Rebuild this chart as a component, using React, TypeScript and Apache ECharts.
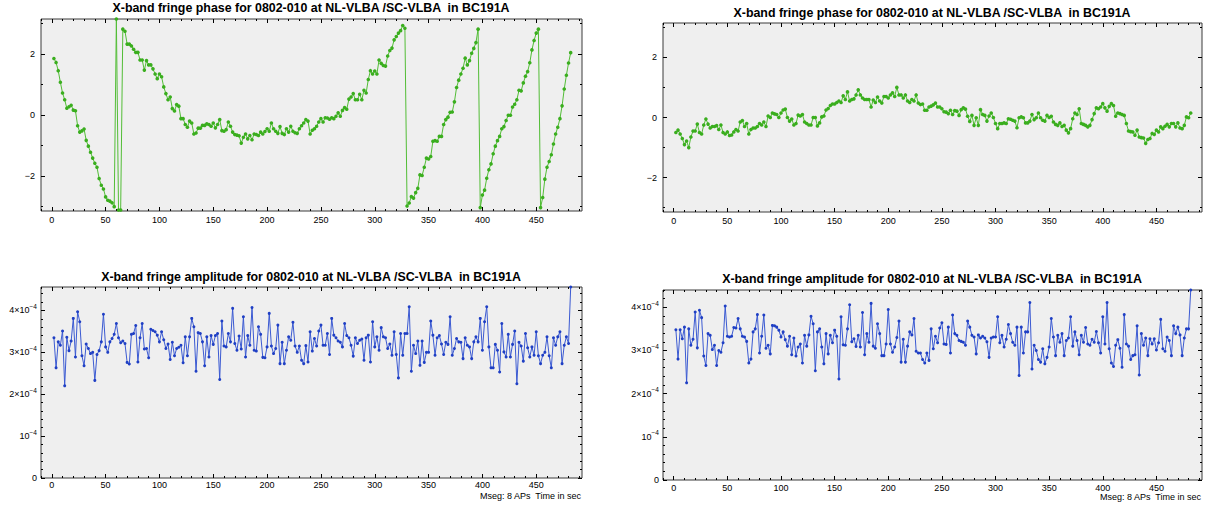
import React, { useEffect, useRef } from "react";
import * as echarts from "echarts";

// ---------- text ----------
const TITLE_PHASE = "X-band fringe phase for 0802-010 at NL-VLBA /SC-VLBA  in BC191A";
const TITLE_AMP = "X-band fringe amplitude for 0802-010 at NL-VLBA /SC-VLBA  in BC191A";
const FOOTNOTE = "Mseg: 8 APs  Time in sec";

// ---------- sampling grid (seconds) ----------
const T_START = 2;
const T_STEP = 2;

// ---------- tick labels ----------
const X_TICK_LABELS = [0, 50, 100, 150, 200, 250, 300, 350, 400, 450];
const PHASE_TICK_LABELS = [-2, 0, 2];
const AMP_TICK_LABELS = [0, 1, 2, 3, 4]; // in units of 1e-4
const AMP_UNIT = 1e-4;

// ---------- phase, left panel (radians) ----------
const PHASE_A = [
  1.85, 1.72, 1.45, 1.07, 0.72, 0.5, 0.22, 0.27, 0.32, 0.16,
  0.14, -0.35, -0.56, -0.52, -0.46, -0.83, -1.02, -1.22, -1.41, -1.58,
  -1.71, -2.08, -2.3, -2.42, -2.68, -2.79, -2.82, -2.87, -3.0,
  3.14, -3.11, -3.11, 2.81, 2.74,
  2.32, 2.32, 2.26, 2.15, 2.05, 2.05, 1.8, 1.8, 1.47, 1.78,
  1.64, 1.64, 1.51, 1.34, 1.19, 1.34, 1.25, 0.92, 0.7, 0.5,
  0.59, 0.21, 0.13, 0.34, 0.29,
  -0.12, -0.12, -0.31, -0.4, -0.2, -0.26, -0.62, -0.59, -0.43, -0.43,
  -0.34, -0.34, -0.29, -0.31, -0.37, -0.26, -0.42, -0.31, -0.15, -0.51,
  -0.53, -0.48, -0.23, -0.37, -0.56, -0.64, -0.66, -0.68, -0.92,
  -0.73, -0.62, -0.78, -0.67, -0.81, -0.62, -0.64, -0.67, -0.56, -0.62,
  -0.54, -0.45, -0.53, -0.26, -0.45, -0.53, -0.6, -0.38, -0.6, -0.64,
  -0.45, -0.56, -0.37, -0.53, -0.58, -0.6, -0.45, -0.35,
  -0.26, -0.15, -0.2, -0.62, -0.5, -0.45, -0.37, -0.23, -0.12, -0.23,
  -0.09, -0.1, -0.14, -0.09, -0.12, -0.04, 0.07, -0.04, 0.15, 0.24,
  0.19, 0.52, 0.59, 0.7, 0.5, 0.5, 0.68, 0.5, 0.81, 0.72,
  1.16, 1.45, 1.34, 1.44, 1.34, 1.8, 1.69, 1.62, 1.6, 1.93,
  2.11, 2.19, 2.46, 2.57, 2.68, 2.76, 2.93, 2.84,
  -2.98, -2.88, -2.67, -2.72, -2.54, -2.4, -1.96, -1.98, -1.71, -1.41,
  -1.44, -1.36, -0.86, -0.84, -0.86, -0.7, -0.7, -0.31, -0.15, -0.07,
  0.09, 0.1, 0.43, 0.9, 1.14, 1.34, 1.53, 1.86, 1.64, 1.78,
  2.02, 2.18, 2.37, 2.81,
  -3.03, -2.62, -2.46, -2.07, -1.79, -1.6, -1.27, -1.02, -0.84, -0.7,
  -0.45, -0.38, -0.18, -0.01, -0.01, 0.26, 0.35, 0.5, 0.81, 0.79,
  1.05, 1.27, 1.42, 1.71, 2.13, 2.44, 2.68, 2.81,
  -3.03, -2.7, -2.1, -1.71, -1.52, -1.3, -0.95, -0.62, -0.4, -0.12,
  0.3, 0.85, 1.3, 1.7, 2.04,
];

// ---------- phase, right panel (radians) ----------
const PHASE_B = [
  -0.5, -0.42, -0.55, -0.7, -0.9, -0.78, -1.0, -0.65, -0.45, -0.45, -0.22,
  -0.5, -0.55, -0.25, -0.05, -0.22, -0.35, -0.3, -0.3, -0.27, -0.4, -0.25,
  -0.5, -0.55, -0.48, -0.6, -0.58, -0.48, -0.4, -0.45, -0.15, -0.1,
  -0.3, -0.2, -0.55, -0.4, -0.35, -0.35, -0.3, -0.2, -0.25, -0.15,
  -0.3, 0.05, 0.0, 0.15, 0.12, 0.1, 0.0, 0.15, 0.25, 0.28, 0.0,
  -0.12, -0.05, -0.25, -0.2, 0.08, 0.05, 0.1, -0.15, -0.2, -0.25,
  -0.25, 0.0, 0.0, -0.28, -0.18, 0.02, 0.05, 0.25, 0.3, 0.4,
  0.45, 0.45, 0.5, 0.55, 0.5, 0.72, 0.6, 0.85, 0.55, 0.6, 0.62,
  0.75, 0.92, 0.75, 0.65, 0.6, 0.6, 0.6, 0.35, 0.58, 0.5,
  0.68, 0.55, 0.48, 0.7, 0.7, 0.65, 0.75, 0.82, 0.7, 1.0,
  0.75, 0.75, 0.65, 0.75, 0.55, 0.5, 0.6, 0.55, 0.75, 0.48,
  0.43, 0.45, 0.24, 0.24, 0.35, 0.38, 0.42, 0.48, 0.35, 0.35,
  0.29, 0.19, 0.18, 0.13, 0.24, 0.1, 0.23, 0.21, 0.07, 0.26,
  0.32, 0.28, 0.04, -0.13, 0.07, -0.26, -0.01, -0.26, 0.26, 0.1,
  0.07, -0.12, 0.05, 0.15, 0.0, -0.2, -0.37, -0.2, -0.2, -0.18,
  -0.2, -0.04, -0.06, -0.09, -0.12, -0.34, -0.01, 0.02, -0.01, -0.18,
  -0.18, -0.12, 0.1, -0.07, -0.01, 0.15, -0.01, -0.09, -0.12, 0.07, 0.0,
  0.04, -0.15, -0.23, -0.26, -0.18, -0.3, -0.26, -0.42, -0.51, -0.37,
  -0.04, 0.15, 0.1, 0.29, -0.2, -0.23, -0.26, -0.31, -0.26, -0.07,
  0.13, 0.32, 0.29, 0.35, 0.46, 0.32, 0.21, 0.37, 0.46, 0.4,
  0.04, 0.15, 0.13, 0.1, 0.07, -0.2, -0.45, -0.47, -0.48, -0.59, -0.42,
  -0.65, -0.67, -0.68, -0.86, -0.73, -0.7, -0.53, -0.56, -0.42, -0.48,
  -0.31, -0.37, -0.29, -0.23, -0.31, -0.2, -0.2, -0.31, -0.18, -0.35,
  -0.37, -0.26, 0.02, -0.01, 0.15,
];

// ---------- amplitude, left panel (units of 1e-4) ----------
const AMP_A = [
  3.35, 2.63, 3.25, 3.17, 3.51, 2.2, 3.36, 3.04, 3.27, 3.81,
  2.89, 3.97, 3.73, 2.92, 2.68, 3.2, 3.09, 2.97, 3.0, 2.33, 2.95,
  3.04, 3.25, 3.91, 3.13, 3.0, 3.25, 3.33, 3.43, 3.69, 3.35,
  3.23, 3.27, 3.21, 2.76, 2.72, 3.43, 3.45, 3.64, 2.77, 3.35,
  3.69, 3.08, 3.09, 2.87, 3.55, 3.52, 3.49, 3.41, 3.25, 3.49, 3.3,
  3.09, 3.2, 2.83, 3.24, 2.92, 3.09, 3.12, 3.17, 2.75, 3.37,
  2.92, 3.37, 3.81, 3.61, 2.55, 3.47, 3.45, 3.25, 2.68, 3.37,
  2.89, 3.4, 3.19, 3.4, 3.45, 2.35, 3.75, 3.15, 3.13, 3.45, 3.25,
  4.05, 3.21, 3.05, 3.39, 3.08, 3.85, 2.89, 3.4, 3.17, 4.07,
  3.05, 3.03, 3.61, 3.43, 2.88, 2.87, 3.13, 3.93, 3.15, 2.97,
  3.09, 3.65, 2.73, 3.24, 2.73, 3.05, 3.37, 3.29, 3.72, 3.15, 3.0,
  3.15, 2.81, 2.73, 3.16, 2.77, 3.49, 3.03, 3.33, 3.15, 3.51, 3.65,
  3.17, 3.17, 3.45, 2.95, 3.81, 3.41, 3.35, 3.27, 3.24, 3.13,
  3.69, 3.4, 3.35, 3.17, 2.91, 3.35, 3.21, 3.29, 3.32, 2.81,
  3.35, 3.41, 2.77, 3.73, 3.13, 3.37, 3.05, 3.59, 3.37, 3.35,
  3.09, 3.2, 2.93, 3.49, 2.95, 2.39,
  3.45, 2.93, 3.45, 3.45, 4.09, 2.55, 3.17, 2.97, 3.27, 2.69,
  3.27, 2.76, 3.0, 3.0, 3.75, 3.41, 2.93, 3.35, 3.4, 3.2,
  2.95, 3.24, 3.19, 3.85, 2.93, 3.09, 3.33, 3.25, 3.24, 2.85,
  3.35, 3.17, 3.13, 2.85, 3.25, 3.37, 3.25, 3.81, 3.05, 3.73,
  4.09, 3.13, 2.63, 2.63, 3.19, 3.05, 2.53, 3.69, 3.01, 2.89,
  3.43, 2.89, 3.19, 3.51, 2.25, 3.24, 3.15, 2.79, 3.45, 3.11,
  2.89, 3.13, 2.93, 3.49, 2.92, 2.73, 2.93, 3.0, 3.37, 2.92,
  2.63, 3.35, 3.17, 3.37, 3.49, 2.73, 3.17, 3.37, 3.21, 4.56,
];

// ---------- amplitude, right panel (units of 1e-4) ----------
const AMP_B = [
  3.48, 2.8, 3.48, 3.27, 3.54, 2.25, 3.5, 3.12, 3.26, 3.89,
  3.06, 3.93, 3.76, 2.87, 2.65, 3.39, 3.35, 3.02, 3.12, 2.65, 3.0,
  2.96, 3.18, 4.03, 3.33, 3.31, 3.33, 3.53, 3.52, 3.74, 3.5,
  3.33, 3.31, 3.21, 2.71, 2.8, 3.43, 3.5, 3.83, 2.94, 3.33,
  3.82, 3.05, 3.12, 2.92, 3.58, 3.57, 3.54, 3.47, 3.31, 3.43, 3.25,
  3.1, 3.33, 2.9, 3.29, 2.87, 3.08, 3.15, 2.71, 3.35, 3.1,
  3.36, 3.79, 3.62, 2.53, 3.43, 3.5, 3.08, 2.69, 3.39, 2.92,
  3.35, 3.18, 3.47, 3.33, 2.34, 3.78, 3.13, 3.12, 3.5, 4.06, 3.2,
  3.27, 3.09, 3.35, 3.08, 3.88, 2.9, 3.39, 3.19, 4.09, 3.1,
  3.05, 3.62, 3.39, 2.88, 2.88, 3.15, 3.95, 3.15, 2.96, 3.08, 3.3,
  3.68, 2.73, 3.26, 2.73, 3.1, 3.43, 3.36, 3.74, 2.98, 2.94, 2.94,
  2.79, 2.71, 2.94, 2.77, 3.5, 3.04, 3.33, 3.18, 3.52, 3.64,
  3.15, 3.14, 3.54, 2.94, 3.82, 3.39, 3.35, 3.23, 3.21, 3.19,
  3.12, 3.68, 3.54, 3.35, 3.31, 2.92, 3.36, 3.29, 3.33, 3.29, 3.2,
  2.84, 3.29, 3.31, 3.31, 3.78, 3.18, 3.35, 3.08, 3.26, 3.6,
  3.39, 3.19, 3.12, 3.54, 2.42, 3.54, 2.94, 3.43, 3.43, 4.11,
  2.57, 3.12, 3.0, 2.79, 2.73, 3.04, 2.69, 2.84, 3.08, 3.74,
  3.31, 2.88, 3.35, 3.19, 3.39, 2.88, 3.23, 3.29, 3.78, 3.1,
  3.43, 3.23, 2.9, 3.35, 3.19, 3.53, 3.15, 3.12, 3.26, 3.19,
  3.44, 3.18, 2.94, 3.78, 3.15, 4.11, 3.04, 2.71, 2.63, 3.12, 3.25,
  3.05, 2.61, 3.83, 3.15, 3.1, 2.79, 2.88, 2.9, 3.57, 2.43,
  3.39, 3.12, 3.29, 2.88, 3.27, 3.15, 3.27, 3.01, 3.18, 3.72,
  3.04, 2.98, 3.31, 3.23, 2.88, 3.57, 3.39, 3.54, 3.36, 2.88,
  3.29, 3.5, 3.5, 4.4,
];

// ---------- styling / layout ----------
const FONT = '"Liberation Sans", Arial, Helvetica, sans-serif';
const X_MIN = -10;
const X_MAX = 492.5;
const GREEN = "#3aae1e";
const GREEN_LINE = "#52bd36";
const BLUE = "#1f3fc4";
const BLUE_LINE = "#3b5ad2";

type Panel = {
  kind: "phase" | "amp";
  values: number[];
  grid: { left: number; top: number; width: number; height: number };
  title: string;
  titleX: number;
  titleY: number;
  xMargin: number;
  yMargin: number;
  note?: { x: number; y: number };
};

const PANELS: Panel[] = [
  { kind: "phase", values: PHASE_A, grid: { left: 41, top: 19, width: 541, height: 192 }, title: TITLE_PHASE, titleX: 311, titleY: 8, xMargin: 4, yMargin: 6 },
  { kind: "phase", values: PHASE_B, grid: { left: 663, top: 23, width: 539, height: 189 }, title: TITLE_PHASE, titleX: 932, titleY: 13, xMargin: 4, yMargin: 6 },
  { kind: "amp", values: AMP_A, grid: { left: 41, top: 287, width: 541, height: 191 }, title: TITLE_AMP, titleX: 311, titleY: 277, xMargin: 2, yMargin: 4, note: { x: 581, y: 496 } },
  { kind: "amp", values: AMP_B, grid: { left: 663, top: 290, width: 539, height: 190 }, title: TITLE_AMP, titleX: 932, titleY: 279, xMargin: 3, yMargin: 4, note: { x: 1201, y: 497 } },
];

function range(start: number, end: number, step: number): number[] {
  const out: number[] = [];
  for (let v = start; v <= end + 1e-12; v += step) out.push(+v.toPrecision(12));
  return out;
}

const X_MINOR = range(-10, 490, 10);
const PHASE_MINOR = [-3, -2, -1, 0, 1, 2, 3];

function phaseLabel(v: number): string {
  const r = Math.round(v);
  return r < 0 ? "\u2212" + Math.abs(r) : String(r);
}
function ampLabel(v: number): string {
  const n = Math.round(v / AMP_UNIT);
  if (n === 0) return "{b|0}";
  if (n === 1) return "{b|10}{s|\u22124}";
  return "{b|" + n + "\u00D710}{s|\u22124}";
}

function buildOption(): echarts.EChartsCoreOption {
  const grids: any[] = [];
  const xAxes: any[] = [];
  const yAxes: any[] = [];
  const series: any[] = [];
  const graphics: any[] = [];
  const n = PANELS.length;

  PANELS.forEach((p, i) => {
    grids[i] = {
      ...p.grid,
      show: true,
      backgroundColor: "#efefef",
      borderColor: "#3a3a3a",
      borderWidth: 1,
      containLabel: false,
    };
    grids[n + i] = { ...p.grid, show: false, containLabel: false };

    const isPhase = p.kind === "phase";
    const yMin = isPhase ? -Math.PI : 0;
    const yMax = isPhase ? Math.PI : Math.max(...p.values) * AMP_UNIT;
    const yMajor = isPhase ? PHASE_TICK_LABELS : AMP_TICK_LABELS.map((v) => v * AMP_UNIT);
    const yMinor = isPhase
      ? PHASE_MINOR
      : range(0, Math.max(...p.values), 0.2).map((v) => v * AMP_UNIT);

    const tickStyle = { color: "#000", width: 1 };
    const baseX = {
      type: "value",
      min: X_MIN,
      max: X_MAX,
      axisLine: { show: false, onZero: false },
      splitLine: { show: false },
    };
    const baseY = {
      type: "value",
      min: yMin,
      max: yMax,
      axisLine: { show: false, onZero: false },
      splitLine: { show: false },
    };

    const xLabel = {
      show: true,
      margin: p.xMargin,
      customValues: X_TICK_LABELS,
      color: "#000",
      fontSize: 9,
      fontFamily: FONT,
      formatter: (v: number) => String(Math.round(v)),
    };
    const yLabel = isPhase
      ? {
          show: true,
          margin: p.yMargin,
          customValues: yMajor,
          color: "#000",
          fontSize: 9,
          fontFamily: FONT,
          formatter: phaseLabel,
        }
      : {
          show: true,
          margin: p.yMargin,
          customValues: yMajor,
          color: "#000",
          fontFamily: FONT,
          formatter: ampLabel,
          rich: {
            b: { fontSize: 9, lineHeight: 10, fontFamily: FONT, color: "#000" },
            s: { fontSize: 6.5, lineHeight: 7, fontFamily: FONT, color: "#000", padding: [0, 0, 8, 0] },
          },
        };

    // x axes: main bottom, main top, minor bottom, minor top
    xAxes.push(
      { ...baseX, gridIndex: i, position: "bottom", axisTick: { inside: true, length: 4, customValues: X_TICK_LABELS, lineStyle: tickStyle }, axisLabel: xLabel },
      { ...baseX, gridIndex: i, position: "top", axisTick: { inside: true, length: 4, customValues: X_TICK_LABELS, lineStyle: tickStyle }, axisLabel: { show: false } },
      { ...baseX, gridIndex: n + i, position: "bottom", axisTick: { inside: true, length: 2, customValues: X_MINOR, lineStyle: tickStyle }, axisLabel: { show: false } },
      { ...baseX, gridIndex: n + i, position: "top", axisTick: { inside: true, length: 2, customValues: X_MINOR, lineStyle: tickStyle }, axisLabel: { show: false } }
    );
    yAxes.push(
      { ...baseY, gridIndex: i, position: "left", axisTick: { inside: true, length: 4, customValues: yMajor, lineStyle: tickStyle }, axisLabel: yLabel },
      { ...baseY, gridIndex: i, position: "right", axisTick: { inside: true, length: 4, customValues: yMajor, lineStyle: tickStyle }, axisLabel: { show: false } },
      { ...baseY, gridIndex: n + i, position: "left", axisTick: { inside: true, length: 2, customValues: yMinor, lineStyle: tickStyle }, axisLabel: { show: false } },
      { ...baseY, gridIndex: n + i, position: "right", axisTick: { inside: true, length: 2, customValues: yMinor, lineStyle: tickStyle }, axisLabel: { show: false } }
    );

    const scale = isPhase ? 1 : AMP_UNIT;
    series.push({
      type: "line",
      xAxisIndex: i * 4,
      yAxisIndex: i * 4,
      data: p.values.map((v, k) => [T_START + k * T_STEP, v * scale]),
      symbol: "circle",
      symbolSize: isPhase ? 3.6 : 3,
      itemStyle: { color: isPhase ? GREEN : BLUE },
      lineStyle: { color: isPhase ? GREEN_LINE : BLUE_LINE, width: 1 },
      emphasis: { disabled: true },
      silent: true,
      clip: true,
    });

    graphics.push({
      type: "text",
      x: p.titleX,
      y: p.titleY,
      style: {
        text: p.title,
        fill: "#000",
        font: `bold 12.4px ${FONT}`,
        textAlign: "center",
        textVerticalAlign: "middle",
        align: "center",
        verticalAlign: "middle",
      },
    });
    if (p.note) {
      graphics.push({
        type: "text",
        x: p.note.x,
        y: p.note.y,
        style: {
          text: FOOTNOTE,
          fill: "#000",
          font: `9px ${FONT}`,
          textAlign: "right",
          textVerticalAlign: "middle",
          align: "right",
          verticalAlign: "middle",
        },
      });
    }
  });

  return {
    animation: false,
    backgroundColor: "#ffffff",
    grid: grids,
    xAxis: xAxes,
    yAxis: yAxes,
    series,
    graphic: graphics,
    tooltip: { show: false },
  };
}

export default function App() {
  const ref = useRef<HTMLDivElement>(null);
  useEffect(() => {
    document.body.style.margin = "0";
    if (!ref.current) return;
    const chart = echarts.init(ref.current, undefined, { renderer: "svg" });
    chart.setOption(buildOption());
    return () => chart.dispose();
  }, []);
  return <div ref={ref} style={{ width: 1209, height: 508, background: "#fff" }} />;
}
